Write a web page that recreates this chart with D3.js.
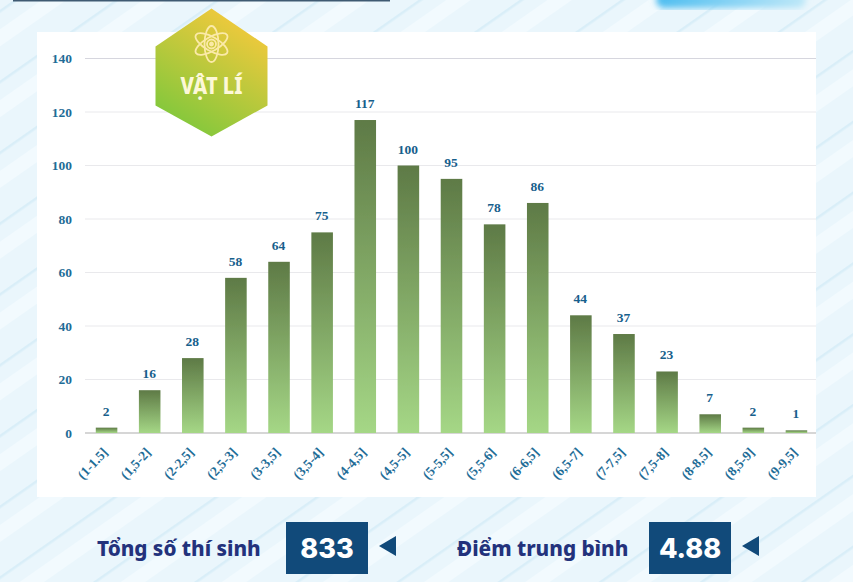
<!DOCTYPE html>
<html>
<head>
	<meta charset="utf-8">
	<title>Vật lí</title>
	<script src="https://d3js.org/d3.v7.min.js"></script>
	<style>
	html, body { margin: 0; padding: 0; background: #eaf6fc; }
	svg { display: block; }
	.axis text { font-family: "Liberation Serif", serif; font-weight: bold; fill: #1f6d97; }
	.axis path, .axis line { display: none; }
	.value { font-family: "Liberation Serif", serif; font-weight: bold; font-size: 13.5px; fill: #17608c; text-anchor: middle; }
	.stat-label { font-family: "Noto Sans", sans-serif; font-weight: 800; font-size: 20.7px; fill: #23327c; }
	.stat-value { font-family: "Inter", sans-serif; font-weight: 800; font-size: 27px; fill: #fff; text-anchor: middle; }
	</style>
</head>
<body>
	<div id="chart"></div>

	<script>
		// values
		var categories = ["(1-1.5]", "(1,5-2]", "(2-2,5]", "(2,5-3]", "(3-3,5]", "(3,5-4]", "(4-4,5]", "(4,5-5]", "(5-5,5]",
			"(5,5-6]", "(6-6,5]", "(6,5-7]", "(7-7,5]", "(7,5-8]", "(8-8,5]", "(8,5-9]", "(9-9,5]"];
		var counts = [2, 16, 28, 58, 64, 75, 117, 100, 95, 78, 86, 44, 37, 23, 7, 2, 1];
		var yTicks = [0, 20, 40, 60, 80, 100, 120, 140];
		var subject = "VẬT LÍ";
		var statLabels = ["Tổng số thí sinh", "Điểm trung bình"];
		var statValues = ["833", "4.88"];

		var svg = d3.select("#chart").append("svg")
			.attr("width", 853)
			.attr("height", 582);
		var defs = svg.append("defs");

		// background stripes
		var stripes = defs.append("pattern")
			.attr("id", "stripes")
			.attr("patternUnits", "userSpaceOnUse")
			.attr("width", 100).attr("height", 58)
			.attr("patternTransform", "rotate(-35)");
		stripes.append("rect").attr("width", 100).attr("height", 58).attr("fill", "#eaf6fc");
		stripes.append("rect").attr("y", 8).attr("width", 100).attr("height", 2.5).attr("fill", "#d9eef8");
		stripes.append("rect").attr("y", 24).attr("width", 100).attr("height", 14).attr("fill", "#f2fafe");
		svg.append("rect").attr("width", 853).attr("height", 582).attr("fill", "url(#stripes)");

		// header rule and the blue glow at top right
		svg.append("rect").attr("x", 13).attr("y", 0).attr("width", 377).attr("height", 1.5).attr("fill", "#3f5a72");
		defs.append("filter").attr("id", "glow").append("feGaussianBlur").attr("stdDeviation", 3);
		var glowFill = defs.append("linearGradient").attr("id", "glowFill");
		glowFill.append("stop").attr("offset", "0%").attr("stop-color", "#4dbdf0");
		glowFill.append("stop").attr("offset", "100%").attr("stop-color", "#bfe8f8");
		svg.append("rect").attr("x", 656).attr("y", -8).attr("width", 150).attr("height", 16).attr("rx", 8)
			.attr("fill", "url(#glowFill)").attr("filter", "url(#glow)");

		// white panel
		svg.append("rect").attr("x", 37).attr("y", 32).attr("width", 779).attr("height", 465).attr("fill", "#fff");

		var x = d3.scaleBand().domain(categories).range([85, 818]).paddingInner(0.5).paddingOuter(0.25);
		var y = d3.scaleLinear().domain([0, 140]).range([433, 58.5]);

		// grid
		svg.append("g").selectAll("line")
			.data(yTicks)
			.enter().append("line")
			.attr("x1", 85).attr("x2", 816)
			.attr("y1", function(d) { return y(d); })
			.attr("y2", function(d) { return y(d); })
			.attr("stroke", function(d) { return d === 0 ? "#c9c9c9" : d === 140 ? "#d6d6de" : "#e9e9ec"; })
			.attr("stroke-width", function(d) { return d === 0 ? 1.5 : 1; });

		// bars
		var barFill = defs.append("linearGradient")
			.attr("id", "barFill")
			.attr("x1", 0).attr("y1", 0).attr("x2", 0).attr("y2", 1);
		barFill.append("stop").attr("offset", "0%").attr("stop-color", "#5e7a46");
		barFill.append("stop").attr("offset", "100%").attr("stop-color", "#a5d786");
		defs.append("filter").attr("id", "soft").append("feGaussianBlur").attr("stdDeviation", 0.5);

		svg.append("g").attr("filter", "url(#soft)").selectAll("rect")
			.data(counts)
			.enter().append("rect")
			.attr("x", function(d, i) { return x(categories[i]); })
			.attr("y", function(d) { return y(d); })
			.attr("width", x.bandwidth())
			.attr("height", function(d) { return y(0) - y(d); })
			.attr("fill", "url(#barFill)");

		// value labels
		svg.append("g").selectAll("text")
			.data(counts)
			.enter().append("text")
			.attr("class", "value")
			.attr("x", function(d, i) { return x(categories[i]) + x.bandwidth() / 2 - 0.5; })
			.attr("y", function(d) { return y(d) - 12; })
			.text(function(d) { return d; });

		// axes
		svg.append("g")
			.attr("class", "axis")
			.attr("transform", "translate(85,0)")
			.call(d3.axisLeft(y).tickValues(yTicks).tickSize(0).tickPadding(13))
			.selectAll("text")
			.style("font-size", "13.5px");

		svg.append("g")
			.attr("class", "axis")
			.attr("transform", "translate(0,433)")
			.call(d3.axisBottom(x).tickSize(0).tickPadding(0))
			.selectAll("text")
			.style("font-size", "13.5px")
			.attr("text-anchor", "end")
			.attr("dy", 0)
			.attr("y", 0)
			.attr("transform", "translate(2,20) rotate(-47)");

		// subject badge
		var badgeFill = defs.append("linearGradient")
			.attr("id", "badgeFill")
			.attr("x1", 0.8).attr("y1", 0.05).attr("x2", 0.3).attr("y2", 0.95);
		badgeFill.append("stop").attr("offset", "0%").attr("stop-color", "#f6c93c");
		badgeFill.append("stop").attr("offset", "100%").attr("stop-color", "#84c83c");

		var badge = svg.append("g").attr("transform", "translate(211.5,72.5)");
		badge.append("path")
			.attr("d", "M0,-64L56,-26L56,33L0,64L-56,33L-56,-26Z")
			.attr("fill", "url(#badgeFill)");

		// atom icon
		var atom = badge.append("g").attr("transform", "translate(0,-28.5)")
			.attr("fill", "none").attr("stroke", "#fbeaa8").attr("stroke-width", 1.8);
		[30, 90, 150].forEach(function(a) {
			atom.append("ellipse").attr("rx", 18).attr("ry", 7).attr("transform", "rotate(" + a + ")");
		});
		atom.append("circle").attr("r", 4.5);
		atom.append("circle").attr("r", 1.5).attr("fill", "#fbeaa8");

		badge.append("text")
			.attr("y", 21)
			.attr("text-anchor", "middle")
			.attr("font-family", "'Noto Sans', sans-serif")
			.attr("font-weight", 800)
			.attr("font-size", 23)
			.attr("textLength", 62)
			.attr("lengthAdjust", "spacingAndGlyphs")
			.attr("fill", "#fdf8d8")
			.text(subject);

		// totals under the chart
		var statLeft = [97, 457];
		var boxLeft = [286, 649];
		statLabels.forEach(function(label, i) {
			svg.append("text").attr("class", "stat-label")
				.attr("x", statLeft[i]).attr("y", 556)
				.text(label);
			svg.append("rect")
				.attr("x", boxLeft[i]).attr("y", 522)
				.attr("width", 82).attr("height", 52)
				.attr("fill", "#114a7a");
			svg.append("text").attr("class", "stat-value")
				.attr("x", boxLeft[i] + 41).attr("y", 557.5)
				.text(statValues[i]);
			svg.append("path")
				.attr("d", "M" + (boxLeft[i] + 93) + ",546L" + (boxLeft[i] + 110) + ",536V556Z")
				.attr("fill", "#114a7a");
		});
	</script>
</body>
</html>
